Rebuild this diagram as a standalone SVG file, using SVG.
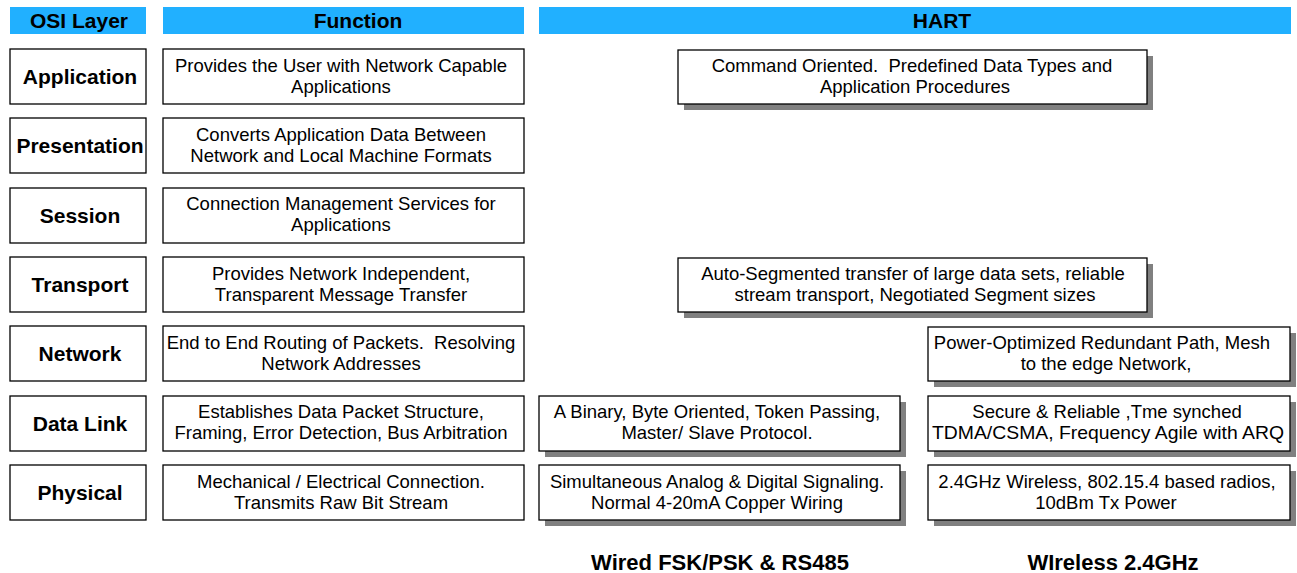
<svg xmlns="http://www.w3.org/2000/svg" width="1297" height="573" viewBox="0 0 1297 573">
<style>
.hdr{fill:#21b0ff}
.ht{font-family:"Liberation Sans",Arial,sans-serif;font-weight:bold;font-size:21px;text-anchor:middle;fill:#000}
.box{fill:#fff;stroke:#000;stroke-width:1.3}
.sh{fill:#808080}
.lay{font-family:"Liberation Sans",Arial,sans-serif;font-weight:bold;font-size:21px;text-anchor:middle;fill:#000}
.fn{font-family:"Liberation Sans",Arial,sans-serif;font-size:18.5px;text-anchor:middle;fill:#000;white-space:pre}
.hn{font-family:"Liberation Sans",Arial,sans-serif;font-size:18.5px;text-anchor:middle;fill:#000;white-space:pre}
.ft{font-family:"Liberation Sans",Arial,sans-serif;font-weight:bold;font-size:22px;text-anchor:middle;fill:#000}
</style>
<rect width="1297" height="573" fill="#fff"/>
<g id="headers">
<rect class="hdr" x="10" y="7" width="136" height="27"/>
<text class="ht" x="79" y="28">OSI Layer</text>
<rect class="hdr" x="163" y="7" width="361" height="27"/>
<text class="ht" x="358" y="28">Function</text>
<rect class="hdr" x="539" y="7" width="752" height="27"/>
<text class="ht" x="942" y="28">HART</text>
</g>
<g id="osi-layers">
<g id="l-app"><rect class="box" x="10" y="49" width="136" height="55"/><text class="lay" x="80" y="84">Application</text></g>
<g id="l-pres"><rect class="box" x="10" y="118" width="136" height="55"/><text class="lay" x="80" y="153">Presentation</text></g>
<g id="l-sess"><rect class="box" x="10" y="188" width="136" height="55"/><text class="lay" x="80" y="223">Session</text></g>
<g id="l-trans"><rect class="box" x="10" y="257" width="136" height="55"/><text class="lay" x="80" y="292">Transport</text></g>
<g id="l-net"><rect class="box" x="10" y="326" width="136" height="55"/><text class="lay" x="80" y="361">Network</text></g>
<g id="l-dl"><rect class="box" x="10" y="396" width="136" height="55"/><text class="lay" x="80" y="431">Data Link</text></g>
<g id="l-phy"><rect class="box" x="10" y="465" width="136" height="55"/><text class="lay" x="80" y="500">Physical</text></g>
</g>
<g id="functions">
<g id="f-app"><rect class="box" x="163" y="49" width="361" height="55"/><text class="fn" x="341" y="72">Provides the User with Network Capable</text><text class="fn" x="341" y="93">Applications</text></g>
<g id="f-pres"><rect class="box" x="163" y="118" width="361" height="55"/><text class="fn" x="341" y="141">Converts Application Data Between</text><text class="fn" x="341" y="162">Network and Local Machine Formats</text></g>
<g id="f-sess"><rect class="box" x="163" y="188" width="361" height="55"/><text class="fn" x="341" y="210">Connection Management Services for</text><text class="fn" x="341" y="231">Applications</text></g>
<g id="f-trans"><rect class="box" x="163" y="257" width="361" height="55"/><text class="fn" x="341" y="280">Provides Network Independent,</text><text class="fn" x="341" y="301">Transparent Message Transfer</text></g>
<g id="f-net"><rect class="box" x="163" y="326" width="361" height="55"/><text class="fn" x="341" y="349">End to End Routing of Packets.  Resolving</text><text class="fn" x="341" y="370">Network Addresses</text></g>
<g id="f-dl"><rect class="box" x="163" y="396" width="361" height="55"/><text class="fn" x="341" y="418">Establishes Data Packet Structure,</text><text class="fn" x="341" y="439">Framing, Error Detection, Bus Arbitration</text></g>
<g id="f-phy"><rect class="box" x="163" y="465" width="361" height="55"/><text class="fn" x="341" y="488">Mechanical / Electrical Connection.</text><text class="fn" x="341" y="509">Transmits Raw Bit Stream</text></g>
</g>
<g id="hart">
<g id="h-app"><rect class="sh" x="684" y="56" width="469" height="54"/><rect class="box" x="678" y="50" width="469" height="54"/>
<text class="hn" x="912" y="72">Command Oriented.  Predefined Data Types and</text>
<text class="hn" x="915" y="93">Application Procedures</text></g>
<g id="h-trans"><rect class="sh" x="684" y="264" width="469" height="54"/><rect class="box" x="678" y="258" width="469" height="54"/>
<text class="hn" x="913" y="280">Auto-Segmented transfer of large data sets, reliable</text>
<text class="hn" x="915" y="301">stream transport, Negotiated Segment sizes</text></g>
<g id="h-net"><rect class="sh" x="934" y="333" width="362" height="54"/><rect class="box" x="928" y="327" width="362" height="54"/>
<text class="hn" x="1102" y="349">Power-Optimized Redundant Path, Mesh</text>
<text class="hn" x="1106" y="370">to the edge Network,</text></g>
<g id="h-dl-wired"><rect class="sh" x="545" y="402" width="361" height="55"/><rect class="box" x="539" y="396" width="361" height="55"/>
<text class="hn" x="717" y="418">A Binary, Byte Oriented, Token Passing,</text>
<text class="hn" x="717" y="439">Master/ Slave Protocol.</text></g>
<g id="h-dl-wireless"><rect class="sh" x="934" y="402" width="362" height="55"/><rect class="box" x="928" y="396" width="362" height="55"/>
<text class="hn" x="1107" y="418">Secure &amp; Reliable ,Tme synched</text>
<text class="hn" x="1108" y="439" textLength="352" lengthAdjust="spacingAndGlyphs">TDMA/CSMA, Frequency Agile with ARQ</text></g>
<g id="h-phy-wired"><rect class="sh" x="545" y="471" width="361" height="55"/><rect class="box" x="539" y="465" width="361" height="55"/>
<text class="hn" x="717" y="488">Simultaneous Analog &amp; Digital Signaling.</text>
<text class="hn" x="717" y="509">Normal 4-20mA Copper Wiring</text></g>
<g id="h-phy-wireless"><rect class="sh" x="934" y="471" width="362" height="55"/><rect class="box" x="928" y="465" width="362" height="55"/>
<text class="hn" x="1107" y="488">2.4GHz Wireless, 802.15.4 based radios,</text>
<text class="hn" x="1106" y="509">10dBm Tx Power</text></g>
</g>
<g id="footers">
<text class="ft" x="720" y="570">Wired FSK/PSK &amp; RS485</text>
<text class="ft" x="1113" y="570">WIreless 2.4GHz</text>
</g>
<g id="connectors"/>
</svg>
